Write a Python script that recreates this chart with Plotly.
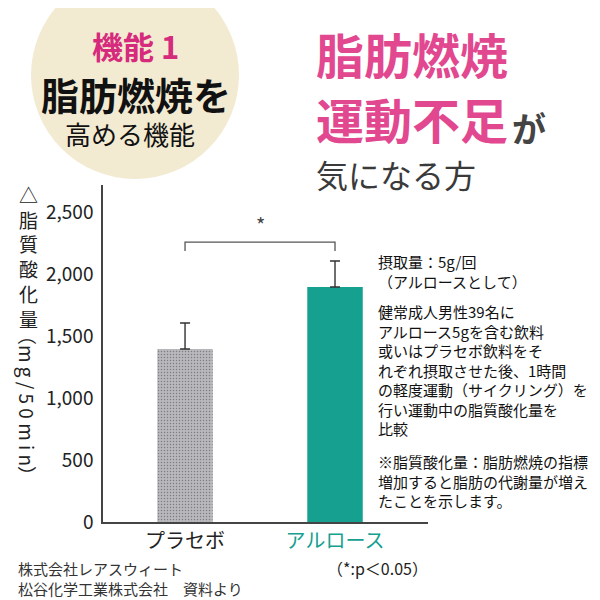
import plotly.graph_objects as go

# データ
groups = ["プラセボ", "アルロース"]
fat_oxidation = [1395, 1895]   # mg/50min
errors = [210, 210]
group_colors = ["#b8b8bd", "#15a090"]
label_colors = ["#222222", "#15a090"]
y_ticks = [0, 500, 1000, 1500, 2000, 2500]

sig_y = 2258     # 有意差ブラケットの高さ
sig_drop = 2185
sig_label = "*"

note_intake = ["摂取量：5g/回", "（アルロースとして）"]
note_method = ["健常成人男性39名に", "アルロース5gを含む飲料", "或いはプラセボ飲料をそ",
               "れぞれ摂取させた後、1時間", "の軽度運動（サイクリング）を",
               "行い運動中の脂質酸化量を", "比較"]
note_def = ["※脂質酸化量：脂肪燃焼の指標", "増加すると脂肪の代謝量が増え", "たことを示します。"]
source = ["株式会社レアスウィート", "松谷化学工業株式会社　資料より"]

FONT = "Noto Sans CJK JP"

# プロット領域（ページ上のピクセル）
L, R, T, B = 103, 428, 185, 522
PAGE_OFFSET = 8   # body の余白ぶん


def px(x):
    return (x - L) / (R - L)


def py(y):
    return (B - y) / (B - T)


fig = go.Figure()
fig.add_trace(go.Bar(
    x=[0, 1], y=fat_oxidation, width=0.37,
    marker=dict(color=group_colors, line=dict(width=0),
                pattern=dict(shape=[".", ""], size=3, solidity=0.2,
                             fgcolor="#a6a6ac", bgcolor="#bfbfc4")),
    error_y=dict(type="data", symmetric=False, array=errors, arrayminus=[0, 0],
                 color="#333333", thickness=1.4, width=5),
))

fig.add_shape(type="path", xref="x", yref="y",
              path=f"M 0,{sig_drop} V {sig_y} H 1 V {sig_drop}",
              line=dict(color="#555555", width=1.3))

fig.add_shape(type="circle", xref="paper", yref="paper", layer="below",
              x0=px(31), x1=px(239), y0=py(179), y1=py(-29),
              fillcolor="#f3ead2", line=dict(width=0))

ann = []


def text(s, x, y, size, color="#222222", xanchor="left", yanchor="middle", **kw):
    ann.append(dict(text=s, x=px(x), y=py(y), xref="paper", yref="paper",
                    xanchor=xanchor, yanchor=yanchor, showarrow=False,
                    font=dict(family=FONT, size=size, color=color), **kw))


# 左上の円
text("<b>機能 1</b>", 135, 45, 31, "#d62a7c", xanchor="center")
text("<b>脂肪燃焼を</b>", 136, 94, 38, "#111111", xanchor="center")
text("高める機能", 130, 133, 26, "#111111", xanchor="center")

# 右上の見出し
text("<b>脂肪燃焼</b>", 314, 53, 48, "#e2488f")
text("<b>運動不足</b>", 314, 118, 48, "#e2488f")
text("<b>が</b>", 510, 127, 34, "#444444")
text("気になる方", 314, 174, 32, "#3a3a3a")

# 縦書きの軸タイトル
text("△<br>脂<br>質<br>酸<br>化<br>量", 28, 256, 19, "#222222", xanchor="center")
text("（m g / 5 0 m i n）", 28, 405, 19, "#222222", xanchor="center", textangle=90)

# 有意差
ann.append(dict(text=sig_label, x=0.5, y=2400, xref="x", yref="y", showarrow=False,
                font=dict(family=FONT, size=20, color="#444444")))

# 注記
text("<br>".join(note_intake), 376, 271, 15, "#111111", align="left")
text("<br>".join(note_method), 376, 370, 15, "#111111", align="left")
text("<br>".join(note_def), 376, 481, 15, "#111111", align="left")
text("（*:p＜0.05）", 430, 568, 16, "#222222", xanchor="right")
text("<br>".join(source), 16, 578, 15, "#333333", align="left")

fig.update_layout(
    width=600 - PAGE_OFFSET, height=600 - PAGE_OFFSET, autosize=False,
    margin=dict(l=L - PAGE_OFFSET, r=600 - R, t=T - PAGE_OFFSET, b=600 - B),
    paper_bgcolor="white", plot_bgcolor="white",
    showlegend=False, annotations=ann,
    font=dict(family=FONT),
)
fig.update_xaxes(
    range=[-0.547, 1.62], tickvals=[0, 1],
    ticktext=[f"<span style='color:{c}'>{g}</span>" for g, c in zip(groups, label_colors)],
    tickfont=dict(family=FONT, size=20), showgrid=False, zeroline=False,
    showline=True, linecolor="#444444", linewidth=1.5, ticks="", fixedrange=True,
)
fig.update_yaxes(
    range=[0, 2718], tickvals=y_ticks, tickformat=",",
    tickfont=dict(family=FONT, size=19, color="#222222"),
    showgrid=False, zeroline=False, showline=True, linecolor="#444444", linewidth=1.5,
    ticks="", ticklabelstandoff=4,
)

fig.write_html("out.html")
